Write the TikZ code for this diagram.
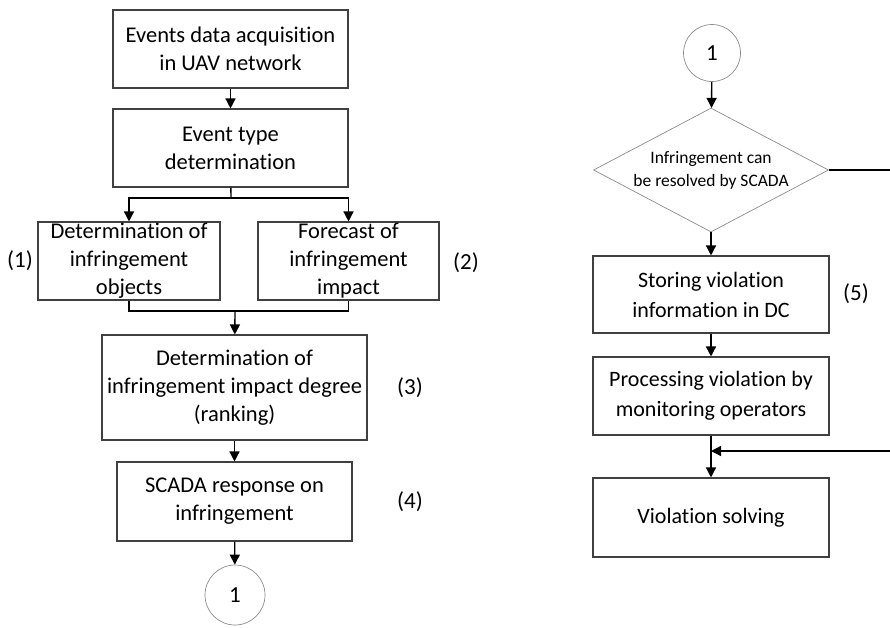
\documentclass[tikz,border=0pt]{standalone}
\usepackage{fontspec}
\setmainfont{Carlito}[Ligatures=NoCommon]
\usepackage{xcolor}
\usetikzlibrary{shapes.geometric, arrows.meta}

\begin{document}
\begin{tikzpicture}[
  x=1pt, y=-1pt,
  block/.style={draw=black!75, line width=1.1pt, align=center, inner sep=0pt,
    font=\fontsize{22.5}{28}\selectfont},
  rblock/.style={block, font=\fontsize{22}{30}\selectfont, minimum width=236pt},
  ring/.style={draw=black!45, line width=0.7pt, circle, inner sep=0pt,
    font=\fontsize{23}{26}\selectfont},
  rhomb/.style={diamond, aspect=1.9, draw=black!45, line width=0.7pt, inner sep=0pt, align=center,
    minimum width=235pt, minimum height=124pt, font=\fontsize{17.5}{23}\selectfont},
  tag/.style={font=\fontsize{23}{26}\selectfont},
  flow/.style={-{Triangle[length=10pt, width=10pt]}, line width=1.4pt},
  link/.style={line width=1.4pt}
]
\useasboundingbox (0,0) rectangle (890,627);

\node[block, minimum width=235pt, minimum height=78pt] (acq) at (230.5,49) {Events data acquisition\\in UAV network};
\node[block, minimum width=235pt, minimum height=78pt] (type) at (230.5,148) {Event type\\determination};
\node[block, minimum width=182pt, minimum height=78pt] (obj) at (129,261) {Determination of\\infringement\\objects};
\node[block, minimum width=181pt, minimum height=78pt] (fore) at (348.5,261) {Forecast of\\infringement\\impact};
\node[block, minimum width=265pt, minimum height=105pt] (degree) at (234.5,387.5) {Determination of\\infringement impact degree\\(ranking)};
\node[block, minimum width=235pt, minimum height=79pt] (resp) at (234.5,501.5) {SCADA response on\\infringement};
\node[ring, minimum size=60pt] (outL) at (235,595) {1};

\node[tag] (m1) at (20,261) {(1)};
\node[tag] (m2) at (466,263) {(2)};
\node[tag] (m3) at (410,388) {(3)};
\node[tag] (m4) at (410,502) {(4)};

\coordinate (split) at (231,198);
\coordinate (merge) at (235,311);

\draw[flow] (acq) -- (type);
\draw[link] (type) -- (split);
\draw[flow] (split) -| (obj);
\draw[flow] (split) -| (fore);
\draw[link] (obj) |- (merge) -| (fore);
\draw[flow] (merge) -- (degree);
\draw[flow] (degree) -- (resp);
\draw[flow] (resp) -- (outL);

\node[ring, minimum size=57pt] (inR) at (712,53) {1};
\node[rhomb] (check) at (711,170) {Infringement can\\be resolved by SCADA};
\node[rblock, minimum height=77pt] (store) at (711,294.5) {Storing violation\\information in DC};
\node[rblock, minimum height=78pt] (oper) at (711,396) {Processing violation by\\monitoring operators};
\node[rblock, minimum height=79pt] (solve) at (711,517.5) {Violation solving};

\node[tag] (m5) at (856,294) {(5)};

\coordinate (cutA) at (890,170);
\coordinate (cutB) at (890,451);
\coordinate (join) at (711,451);

\draw[flow] (inR) -- (check);
\draw[flow] (check) -- (store);
\draw[flow] (store) -- (oper);
\draw[flow] (oper) -- (solve);
\draw[link] (check) -- (cutA);
\draw[flow] (cutB) -- (join);
\end{tikzpicture}
\end{document}
